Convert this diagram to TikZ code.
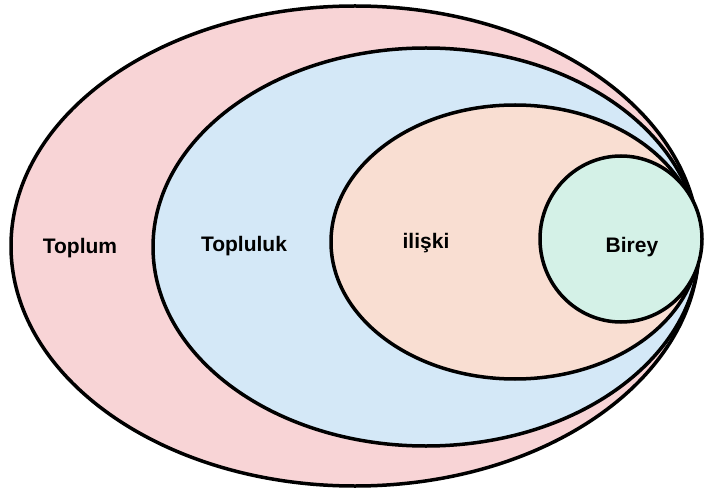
\documentclass[tikz,border=0pt]{standalone}
\usepackage{fontspec}
\setmainfont{Liberation Sans}
\definecolor{pinkfill}{HTML}{F8D4D6}
\definecolor{bluefill}{HTML}{D4E8F7}
\definecolor{peachfill}{HTML}{F9DED2}
\definecolor{greenfill}{HTML}{D4F1E7}
\tikzset{
  setshape/.style={draw=black, line width=3.5pt},
  setlabel/.style={font=\fontsize{21}{24}\selectfont\bfseries, text=black}
}
\begin{document}
\begin{tikzpicture}[x=1pt,y=-1pt]
\useasboundingbox (0,0) rectangle (706,494);
\draw[setshape, fill=pinkfill] (355,246) ellipse [x radius=344, y radius=240];
\draw[setshape, fill=bluefill] (426,247) ellipse [x radius=273, y radius=199];
\draw[setshape, fill=peachfill] (515,242) ellipse [x radius=184, y radius=137];
\draw[setshape, fill=greenfill] (621,239) ellipse [x radius=81, y radius=83];
\node[setlabel] (toplum) at (80,248) {Toplum};
\node[setlabel] (topluluk) at (244,246) {Topluluk};
\node[setlabel] (iliski) at (426,243) {ilişki};
\node[setlabel] (birey) at (632,247) {Birey};
\end{tikzpicture}
\end{document}
